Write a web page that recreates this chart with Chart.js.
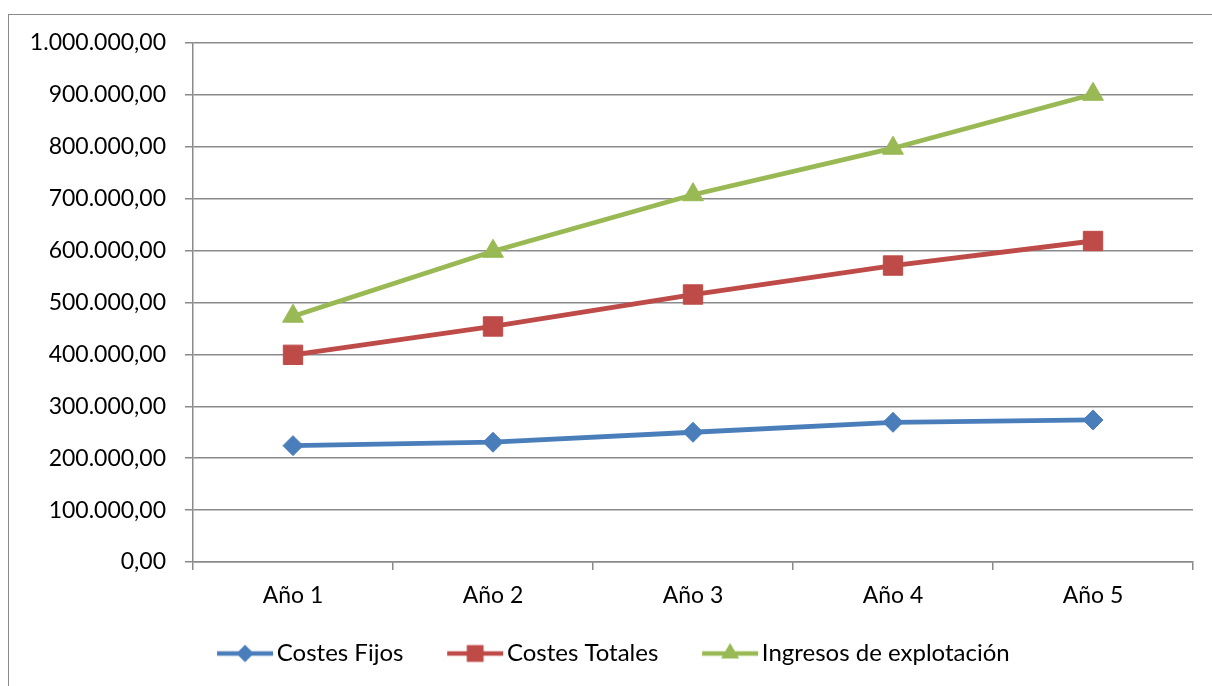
<!DOCTYPE html>
<html lang="es">
<head>
<meta charset="UTF-8">
<title>Costes e ingresos</title>
<script src="https://cdn.jsdelivr.net/npm/chart.js"></script>
<style>
    html, body { margin: 0; background: #fff; overflow: hidden; }
    #frame { position: absolute; left: 8px; top: 14px; width: 1230px; height: 700px; border: 1.5px solid #8a8a8a; }
    #wrap { position: absolute; left: 0; top: 0; width: 1212px; height: 686px; }
</style>
</head>
<body>
<div id="frame"></div>
<div id="wrap"><canvas id="chart" width="1212" height="686"></canvas></div>
<script>
    // Datos
    const years = ['Año 1', 'Año 2', 'Año 3', 'Año 4', 'Año 5'];
    const costesFijos = [224200, 230800, 250000, 269200, 273700];
    const costesTotales = [399200, 453800, 515400, 571200, 618500];
    const ingresos = [473600, 598700, 707700, 797300, 901200];
    const seriesNames = ['Costes Fijos', 'Costes Totales', 'Ingresos de explotación'];

    const FONT = 'Lato, "Open Sans", sans-serif';
    const colors = ['#4a7ebb', '#be4b48', '#98b954'];
    const styles = ['rectRot', 'rect', 'triangle'];
    const radii = [10, 13.7, 12];

    // "1.000.000,00"
    function formatEs(v) {
        return Math.round(v).toString().replace(/\B(?=(\d{3})+(?!\d))/g, '.') + ',00';
    }

    // legend swatch: line with the marker in the middle
    function legendSwatch(i) {
        const c = document.createElement('canvas');
        c.width = 100; c.height = 30;
        const ctx = c.getContext('2d');
        ctx.strokeStyle = colors[i];
        ctx.lineWidth = 4.5;
        ctx.beginPath();
        ctx.moveTo(43, 15);
        ctx.lineTo(99, 15);
        ctx.stroke();
        ctx.fillStyle = colors[i];
        Chart.helpers.drawPoint(ctx, { pointStyle: styles[i], radius: radii[i] * 0.85, borderWidth: 0 }, 71, 15);
        ctx.fill();
        return c;
    }

    const dataSets = [costesFijos, costesTotales, ingresos];

    new Chart(document.getElementById('chart'), {
        type: 'line',
        data: {
            labels: years,
            datasets: dataSets.map((d, i) => ({
                label: seriesNames[i],
                data: d,
                borderColor: colors[i],
                backgroundColor: colors[i],
                borderWidth: 4.8,
                pointStyle: styles[i],
                pointRadius: radii[i],
                pointBorderWidth: 1,
                tension: 0
            }))
        },
        options: {
            responsive: false,
            animation: false,
            layout: { padding: { left: 0, right: 19, top: 43, bottom: 10.5 } },
            plugins: {
                tooltip: { enabled: false },
                legend: {
                    position: 'bottom',
                    labels: {
                        usePointStyle: true,
                        pointStyleWidth: 81.5,
                        padding: 10,
                        color: '#000',
                        font: { family: FONT, size: 24 },
                        generateLabels: (chart) => chart.data.datasets.map((ds, i) => ({
                            text: ds.label,
                            pointStyle: legendSwatch(i),
                            fontColor: '#000',
                            datasetIndex: i,
                            hidden: false,
                            lineWidth: 0
                        }))
                    }
                }
            },
            scales: {
                x: {
                    offset: true,
                    afterFit: (s) => { s.height = 69.5; },
                    grid: { offset: true, drawOnChartArea: false, drawTicks: true, tickLength: 8, color: '#8a8a8a', lineWidth: 1.5 },
                    border: { color: '#8a8a8a', width: 1.5 },
                    ticks: { color: '#000', padding: 12, font: { family: FONT, size: 23 } }
                },
                y: {
                    min: 0,
                    max: 1000000,
                    afterFit: (s) => { s.width = 193; },
                    grid: { color: '#8a8a8a', lineWidth: 1.5, drawTicks: true, tickLength: 8 },
                    border: { color: '#8a8a8a', width: 1.5 },
                    ticks: { stepSize: 100000, color: '#000', padding: 19, font: { family: FONT, size: 23 }, callback: (v) => formatEs(v) }
                }
            }
        }
    });
</script>
</body>
</html>
